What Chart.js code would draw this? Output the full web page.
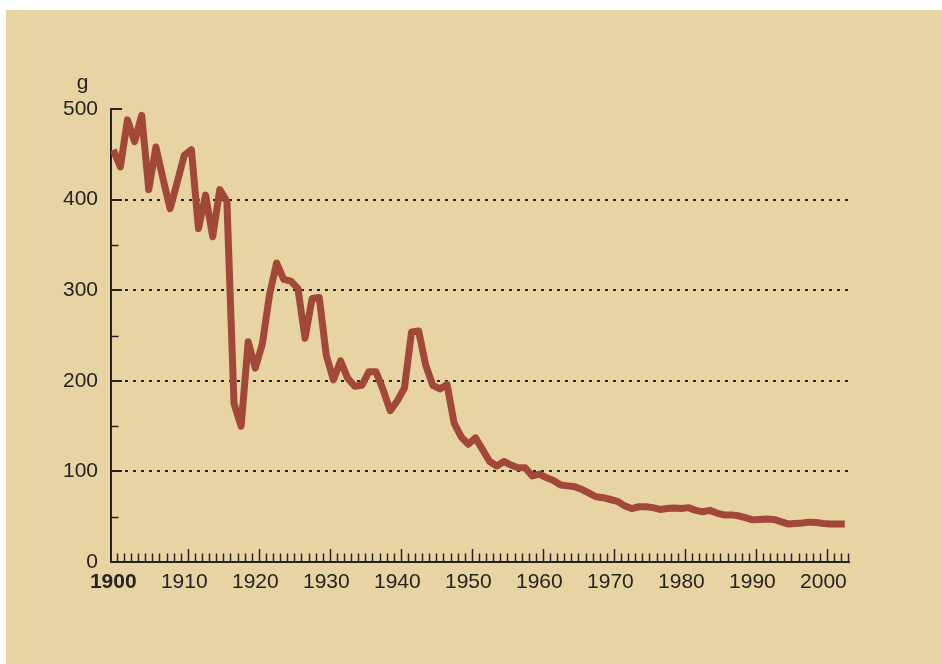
<!DOCTYPE html>
<html>
<head>
<meta charset="utf-8">
<script src="https://cdn.jsdelivr.net/npm/chart.js@4/dist/chart.umd.min.js"></script>
<style>
  html, body { margin: 0; padding: 0; background: #ffffff; }
  #wrap { position: relative; width: 942px; height: 664px; }
  canvas { display: block; }
</style>
</head>
<body>
<div id="wrap"><canvas id="c" width="942" height="664"></canvas></div>
<script>
// ---- data ----
const years = [];
for (let y = 1900; y <= 2003; y++) years.push(y);

const grams = [
  455, 436, 488, 464, 493, 411, 458, 423, 390, 419,   // 1900-1909
  449, 455, 368, 405, 359, 411, 398, 175, 150, 243,   // 1910-1919
  214, 241, 295, 330, 312, 310, 302, 247, 291, 292,   // 1920-1929
  228, 201, 222, 203, 194, 195, 210, 210, 190, 167,   // 1930-1939
  178, 192, 254, 255, 217, 195, 191, 196, 153, 138,   // 1940-1949
  130, 137, 124, 111, 106, 111, 107, 104, 104, 95,    // 1950-1959
  97, 93, 90, 85, 84, 83, 80, 76, 72, 71,             // 1960-1969
  69, 67, 62, 59, 61, 61, 60, 58, 59, 59.5,           // 1970-1979
  59, 60, 57, 55.5, 57, 54, 52, 52, 51, 49,           // 1980-1989
  46.5, 47, 47.5, 47, 44.5, 42, 42.5, 43, 44, 43.5,   // 1990-1999
  42.5, 42, 42, 42                                    // 2000-2003
];

const xTickLabels = ['1900','1910','1920','1930','1940','1950','1960','1970','1980','1990','2000'];
const xTickValues = [1900,1910,1920,1930,1940,1950,1960,1970,1980,1990,2000];
const yTickValues = [0, 100, 200, 300, 400, 500];
const yTickLabels = ['0','100','200','300','400','500'];
const yGridValues = [100, 200, 300, 400];
const yMinorValues = [50, 150, 250, 350, 450];
const unitLabel = 'g';

// ---- styles ----
const BG = 'rgb(232,212,163)';
const INK = '#262321';
const LINE = 'rgb(161,72,56)';
const FONT = '"Liberation Sans", Arial, Helvetica, sans-serif';

const decor = {
  id: 'decor',
  beforeDraw(chart) {
    const ctx = chart.ctx;
    ctx.save();
    ctx.fillStyle = '#ffffff';
    ctx.fillRect(0, 0, chart.width, chart.height);
    ctx.fillStyle = BG;
    ctx.fillRect(6, 10, chart.width - 6, chart.height - 10);
    ctx.restore();
  },
  beforeDatasetsDraw(chart) {
    const ctx = chart.ctx;
    const xs = chart.scales.x, ys = chart.scales.y;
    const L = xs.left, R = xs.right, B = ys.bottom;
    ctx.save();
    ctx.strokeStyle = INK;
    // dotted grid lines
    ctx.lineWidth = 2;
    ctx.setLineDash([3, 5]);
    yGridValues.forEach(v => {
      const y = Math.round(ys.getPixelForValue(v));
      ctx.beginPath();
      ctx.moveTo(L + 14, y);
      ctx.lineTo(R, y);
      ctx.stroke();
    });
    ctx.setLineDash([]);
    // y major ticks
    ctx.lineWidth = 2;
    [100, 200, 300, 400, 500].forEach(v => {
      const y = Math.round(ys.getPixelForValue(v));
      ctx.beginPath(); ctx.moveTo(L, y); ctx.lineTo(L + 11, y); ctx.stroke();
    });
    // y minor ticks
    ctx.lineWidth = 1.5;
    yMinorValues.forEach(v => {
      const y = Math.round(ys.getPixelForValue(v)) + 0.5;
      ctx.beginPath(); ctx.moveTo(L, y); ctx.lineTo(L + 7.5, y); ctx.stroke();
    });
    // x ticks (year boundaries)
    ctx.lineWidth = 1.5;
    years.forEach(yr => {
      const x = Math.round(xs.getPixelForValue(yr + 0.5)) + 0.5;
      const len = (yr % 10 === 0 && yr !== 1900) ? 13 : 8.5;
      ctx.beginPath(); ctx.moveTo(x, B); ctx.lineTo(x, B - len); ctx.stroke();
    });
    // unit label
    ctx.fillStyle = INK;
    ctx.font = '21px ' + FONT;
    ctx.textAlign = 'center';
    ctx.textBaseline = 'alphabetic';
    ctx.fillText(unitLabel, L - 28.5, ys.getPixelForValue(500) - 20.5);
    ctx.restore();
  }
};

new Chart(document.getElementById('c'), {
  type: 'line',
  data: {
    datasets: [{
      data: years.map((y, i) => ({ x: y, y: grams[i] })),
      borderColor: LINE,
      borderWidth: 7,
      pointRadius: 0,
      tension: 0,
      borderJoinStyle: 'round',
      borderCapStyle: 'butt',
      fill: false
    }]
  },
  options: {
    responsive: false,
    animation: false,
    events: [],
    layout: { padding: { left: 0, right: 93, top: 109, bottom: 0 } },
    plugins: { legend: { display: false }, tooltip: { enabled: false }, title: { display: false } },
    scales: {
      x: {
        type: 'linear',
        min: 1899.68,
        max: 2003.6,
        afterBuildTicks: s => { s.ticks = xTickValues.map(v => ({ value: v })); },
        afterFit: s => { s.height = 102; },
        grid: { display: false, drawTicks: false },
        border: { display: true, color: INK, width: 2 },
        ticks: {
          autoSkip: false,
          maxRotation: 0,
          padding: 8,
          color: INK,
          font: ctx => ({ family: FONT, size: 21, weight: ctx.index === 0 ? 'bold' : 'normal' }),
          callback: (v, i) => xTickLabels[i]
        }
      },
      y: {
        type: 'linear',
        min: 0,
        max: 500,
        afterBuildTicks: s => { s.ticks = yTickValues.map(v => ({ value: v })); },
        afterFit: s => { s.width = 111; },
        grid: { display: false, drawTicks: false },
        border: { display: true, color: INK, width: 2 },
        ticks: {
          padding: 13,
          color: INK,
          font: { family: FONT, size: 21 },
          callback: (v, i) => yTickLabels[i]
        }
      }
    }
  },
  plugins: [decor]
});
</script>
</body>
</html>
